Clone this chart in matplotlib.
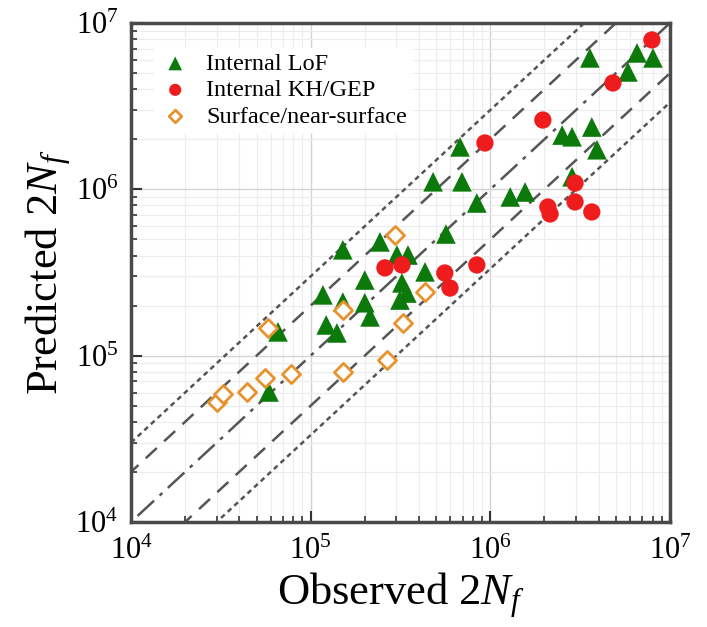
import numpy as np
import matplotlib
matplotlib.use("Agg")
import matplotlib.pyplot as plt
from matplotlib.ticker import LogLocator, NullFormatter

plt.rcParams['font.family'] = 'Liberation Serif'
plt.rcParams['mathtext.fontset'] = 'custom'
plt.rcParams['mathtext.rm'] = 'Liberation Serif'
plt.rcParams['mathtext.it'] = 'Liberation Serif:italic'

# Internal lack-of-fusion defects (observed, predicted)
lof_obs = [3.58e6, 6.55e6, 8.04e6, 5.83e6, 2.51e6, 2.85e6, 3.67e6, 3.92e6, 2.85e6,
           6.78e5, 4.80e5, 6.95e5, 1.29e6, 1.56e6, 8.41e5, 5.66e5, 1.51e5, 2.43e5,
           3.02e5, 3.48e5, 4.33e5, 2.00e5, 3.22e5, 3.43e5, 3.14e5, 1.17e5, 1.51e5,
           1.22e5, 1.40e5, 2.00e5, 2.14e5, 6.58e4, 5.86e4]
lof_pred = [6.17e6, 6.61e6, 6.17e6, 5.08e6, 2.12e6, 2.07e6, 2.37e6, 1.73e6, 1.19e6,
            1.80e6, 1.11e6, 1.11e6, 9.00e5, 9.64e5, 8.28e5, 5.39e5, 4.33e5, 4.83e5,
            4.03e5, 4.03e5, 3.19e5, 2.85e5, 2.74e5, 2.38e5, 2.16e5, 2.32e5, 2.10e5,
            1.53e5, 1.37e5, 2.08e5, 1.71e5, 1.39e5, 6.05e4]

# Internal keyhole / gas-entrapped pores
kh_obs = [7.93e6, 4.81e6, 1.96e6, 9.33e5, 2.96e6, 2.96e6, 2.09e6, 2.15e6, 3.67e6,
          2.59e5, 3.22e5, 5.58e5, 5.96e5, 8.41e5]
kh_pred = [7.91e6, 4.36e6, 2.61e6, 1.90e6, 1.09e6, 8.40e5, 7.83e5, 7.11e5, 7.31e5,
           3.37e5, 3.51e5, 3.14e5, 2.55e5, 3.51e5]

# Surface / near-surface defects
surf_obs = [5.78e4, 1.51e5, 2.94e5, 4.33e5, 3.26e5, 2.66e5, 1.51e5, 7.77e4, 5.57e4,
            4.42e4, 3.01e4, 3.25e4]
surf_pred = [1.47e5, 1.88e5, 5.32e5, 2.42e5, 1.57e5, 9.42e4, 7.98e4, 7.76e4, 7.34e4,
             6.05e4, 5.27e4, 5.89e4]

# scatter bands around the 1:1 line
band_factors = [1, 2, 3]

fig = plt.figure(figsize=(7.07, 6.27), dpi=100)
ax = fig.add_axes([0.1853, 0.1675, 0.7624, 0.7958])
ax.set_xscale("log")
ax.set_yscale("log")
ax.set_xlim(1e4, 1e7)
ax.set_ylim(1e4, 1e7)

ax.grid(True, which="major", color="#d4d4d4", linewidth=1.0, zorder=0)
ax.grid(True, which="minor", color="#ececec", linewidth=0.8, zorder=0)

line_col = "#555555"
xx = np.array([1e3, 1e8])
styles = {1: (0, (9, 3, 1.5, 3)), 2: (0, (6, 4)), 3: (0, (2, 1.6))}
for f in band_factors:
    ax.plot(xx, xx * f, color=line_col, lw=1.8, linestyle=styles[f], zorder=2)
    if f != 1:
        ax.plot(xx, xx / f, color=line_col, lw=1.8, linestyle=styles[f], zorder=2)

ax.scatter(lof_obs, lof_pred, marker="^", s=200, color="#0b7a0b",
           edgecolors="none", zorder=3, label="Internal LoF")
ax.scatter(kh_obs, kh_pred, marker="o", s=155, color="#ee1c1c",
           edgecolors="none", zorder=4, label="Internal KH/GEP")
ax.scatter(surf_obs, surf_pred, marker="D", s=85, facecolors="white",
           edgecolors="#e8922e", linewidths=2.0, zorder=5,
           label="Surface/near-surface")

ax.xaxis.set_major_locator(LogLocator(base=10, numticks=10))
ax.yaxis.set_major_locator(LogLocator(base=10, numticks=10))
ax.xaxis.set_minor_locator(LogLocator(base=10, subs=np.arange(2, 10), numticks=10))
ax.yaxis.set_minor_locator(LogLocator(base=10, subs=np.arange(2, 10), numticks=10))
ax.xaxis.set_minor_formatter(NullFormatter())
ax.yaxis.set_minor_formatter(NullFormatter())
ax.tick_params(which="both", direction="in", top=False, right=False,
               colors="#333333", labelcolor="black")
ax.tick_params(which="major", length=8, width=1.5, labelsize=22)
ax.tick_params(axis="x", which="major", pad=11)
ax.tick_params(axis="y", which="major", pad=9)
ax.tick_params(which="minor", length=4, width=1.2)

for sp in ax.spines.values():
    sp.set_linewidth(2.5)
    sp.set_color("#4a4a4a")

ax.set_xlabel("Observed 2$N_f$", fontsize=32, labelpad=3)
ax.set_ylabel("Predicted 2$N_f$", fontsize=32, labelpad=2)

leg = ax.legend(loc="upper left", bbox_to_anchor=(0.043, 0.95), fontsize=17.5,
                frameon=True, fancybox=False, framealpha=1, edgecolor="white",
                facecolor="white", handletextpad=0.6, handlelength=1.33,
                borderpad=0.2, labelspacing=0.18, scatterpoints=1,
                borderaxespad=0, markerscale=0.7)
leg.set_zorder(6)

fig.savefig("out.png", dpi=100)
